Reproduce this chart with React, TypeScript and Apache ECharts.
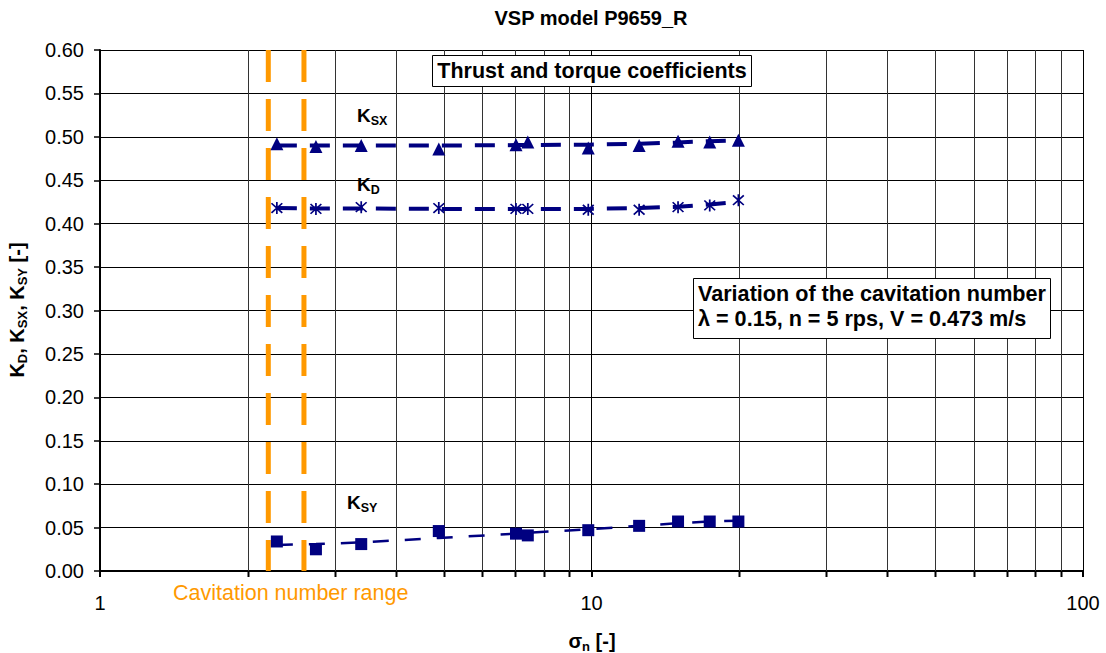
import React, { useEffect, useRef } from 'react';
import * as echarts from 'echarts';

// ---- data ----
const sigma = [2.29, 2.75, 3.4, 4.89, 7.02, 7.42, 9.85, 12.5, 15.0, 17.4, 19.9];
const kSX = [0.492, 0.489, 0.49, 0.486, 0.491, 0.494, 0.487, 0.49, 0.495, 0.494, 0.496];
const kD = [0.418, 0.417, 0.419, 0.418, 0.417, 0.417, 0.416, 0.416, 0.419, 0.421, 0.427];
const kSY = [0.034, 0.025, 0.031, 0.046, 0.043, 0.041, 0.047, 0.052, 0.057, 0.057, 0.057];
// trend lines (at the same sigma values)
const kSXTrend = [0.49, 0.49, 0.49, 0.49, 0.4905, 0.4905, 0.491, 0.492, 0.4935, 0.495, 0.496];
const kDTrend = [0.418, 0.4175, 0.4175, 0.417, 0.417, 0.417, 0.417, 0.418, 0.4195, 0.422, 0.425];
const kSYTrend = [0.03, 0.031, 0.033, 0.038, 0.043, 0.044, 0.048, 0.052, 0.055, 0.057, 0.058];
const cavRange = [2.2, 2.6];
const minorTicks = [2, 3, 4, 5, 6, 7, 8, 9, 20, 30, 40, 50, 60, 70, 80, 90];
const xMin = 1;
const xMax = 100;
const yMin = 0;
const yMax = 0.6;
const yStep = 0.05;

const FONT = "'Liberation Sans', Arial, Helvetica, sans-serif";
const NAVY = '#000080';
const ORANGE = '#FF9900';

const STAR =
  'path://M8.7,0L11.3,0L11.3,20L8.7,20Z M1,2.8L2.8,1L19,17.2L17.2,19Z M17.2,1L19,2.8L2.8,19L1,17.2Z';

const subRich = (size: number, sub: number) => ({
  k: { fontSize: size, fontWeight: 'bold', fontFamily: FONT, lineHeight: 24, verticalAlign: 'middle', fill: '#000' },
  s: { fontSize: sub, fontWeight: 'bold', fontFamily: FONT, lineHeight: 13, verticalAlign: 'bottom', fill: '#000' },
});

export default function App() {
  const ref = useRef<HTMLDivElement>(null);

  useEffect(() => {
    if (!ref.current) return;
    const chart = echarts.init(ref.current, undefined, { renderer: 'svg' });

    const pairs = (ys: number[]) => sigma.map((x, i) => [x, ys[i]]);

    const trend = (name: string, ys: number[], width: number, dash: number[]) => ({
      name,
      type: 'line',
      data: pairs(ys),
      symbol: 'none',
      showSymbol: false,
      lineStyle: { color: NAVY, width, type: dash },
      z: 3,
      silent: true,
    });

    const marks = (name: string, ys: number[], symbol: string, size: number) => ({
      name,
      type: 'scatter',
      data: pairs(ys),
      symbol,
      symbolSize: size,
      itemStyle: { color: NAVY, opacity: 1 },
      z: 4,
      silent: true,
    });

    const option: any = {
      animation: false,
      backgroundColor: '#fff',
      grid: { left: 100, right: 23, top: 50, bottom: 82, containLabel: false },
      xAxis: {
        type: 'log',
        logBase: 10,
        min: xMin,
        max: xMax,
        axisLine: { show: true, onZero: false, lineStyle: { color: '#000', width: 2 } },
        axisTick: { show: true, inside: false, length: 6, lineStyle: { color: '#000', width: 2 } },
        axisLabel: {
          color: '#000',
          fontSize: 20,
          fontFamily: FONT,
          margin: 22,
          formatter: (v: number) => String(Math.round(v)),
        },
        splitLine: { show: true, lineStyle: { color: '#000', width: 1 } },
      },
      yAxis: {
        type: 'value',
        min: yMin,
        max: yMax,
        interval: yStep,
        axisLine: { show: true, lineStyle: { color: '#000', width: 2 } },
        axisTick: { show: true, inside: false, length: 6, lineStyle: { color: '#000', width: 1.5 } },
        axisLabel: {
          color: '#000',
          fontSize: 20,
          fontFamily: FONT,
          margin: 16,
          formatter: (v: number) => v.toFixed(2),
        },
        splitLine: { show: true, lineStyle: { color: '#000', width: 1 } },
      },
      series: [
        {
          name: 'minor grid',
          type: 'custom',
          data: minorTicks.map((v) => [v, yMin]),
          encode: { x: 0, y: 1 },
          clip: false,
          silent: true,
          z: 1,
          renderItem: (params: any, api: any) => {
            const bot = api.coord([api.value(0), yMin]);
            const top = api.coord([api.value(0), yMax]);
            const x = Math.round(bot[0]) + 0.5;
            return {
              type: 'group',
              children: [
                {
                  type: 'line',
                  shape: { x1: x, y1: top[1], x2: x, y2: bot[1] },
                  style: { stroke: '#333', lineWidth: 1 },
                },
                {
                  type: 'line',
                  shape: { x1: x, y1: bot[1], x2: x, y2: bot[1] + 6 },
                  style: { stroke: '#000', lineWidth: 2 },
                },
              ],
            };
          },
        },
        ...cavRange.map((c, i) => ({
          name: 'cavitation ' + i,
          type: 'line',
          data: [
            [c, yMax],
            [c, yMin],
          ],
          symbol: 'none',
          showSymbol: false,
          lineStyle: { color: ORANGE, width: 5, type: [32, 17] },
          z: 2,
          silent: true,
        })),
        trend('KSX trend', kSXTrend, 4, [20, 13]),
        trend('KD trend', kDTrend, 4, [20, 13]),
        trend('KSY trend', kSYTrend, 2.5, [16, 16]),
        marks('KSX', kSX, 'triangle', 13),
        marks('KD', kD, STAR, 12),
        marks('KSY', kSY, 'rect', 12),
      ],
      graphic: [
        {
          type: 'text',
          x: 591,
          y: 18,
          z: 100,
          style: {
            text: 'VSP model P9659_R',
            fontSize: 20,
            fontWeight: 'bold',
            fontFamily: FONT,
            fill: '#000',
            textAlign: 'center',
            textVerticalAlign: 'middle',
          },
        },
        {
          type: 'rect',
          z: 100,
          shape: { x: 432.5, y: 55.5, width: 319, height: 31 },
          style: { fill: '#fff', stroke: '#000', lineWidth: 1 },
        },
        {
          type: 'text',
          x: 592,
          y: 71,
          z: 101,
          style: {
            text: 'Thrust and torque coefficients',
            fontSize: 21.5,
            fontWeight: 'bold',
            fontFamily: FONT,
            fill: '#000',
            textAlign: 'center',
            textVerticalAlign: 'middle',
          },
        },
        {
          type: 'rect',
          z: 100,
          shape: { x: 693.5, y: 278.5, width: 357, height: 60 },
          style: { fill: '#fff', stroke: '#000', lineWidth: 1 },
        },
        {
          type: 'text',
          x: 698,
          y: 293,
          z: 101,
          style: {
            text: 'Variation of the cavitation number',
            fontSize: 21.6,
            fontWeight: 'bold',
            fontFamily: FONT,
            fill: '#000',
            textAlign: 'left',
            textVerticalAlign: 'middle',
          },
        },
        {
          type: 'text',
          x: 698,
          y: 318,
          z: 101,
          style: {
            text: 'λ = 0.15, n = 5 rps, V = 0.473 m/s',
            fontSize: 21.6,
            fontWeight: 'bold',
            fontFamily: FONT,
            fill: '#000',
            textAlign: 'left',
            textVerticalAlign: 'middle',
          },
        },
        {
          type: 'text',
          x: 357,
          y: 115,
          z: 101,
          style: { text: '{k|K}{s|SX}', rich: subRich(19, 12.5), textAlign: 'left', textVerticalAlign: 'middle' },
        },
        {
          type: 'text',
          x: 357,
          y: 184,
          z: 101,
          style: { text: '{k|K}{s|D}', rich: subRich(19, 12.5), textAlign: 'left', textVerticalAlign: 'middle' },
        },
        {
          type: 'text',
          x: 347,
          y: 502,
          z: 101,
          style: { text: '{k|K}{s|SY}', rich: subRich(19, 12.5), textAlign: 'left', textVerticalAlign: 'middle' },
        },
        {
          type: 'text',
          x: 17,
          y: 310,
          rotation: Math.PI / 2,
          z: 101,
          style: {
            text: '{k|K}{s|D}{k|, K}{s|SX}{k|, K}{s|SY}{k| [-]}',
            rich: subRich(20, 13),
            textAlign: 'center',
            textVerticalAlign: 'middle',
          },
        },
        {
          type: 'text',
          x: 592,
          y: 641,
          z: 101,
          style: {
            text: '{k|σ}{s|n}{k| [-]}',
            rich: subRich(20, 13),
            textAlign: 'center',
            textVerticalAlign: 'middle',
          },
        },
        {
          type: 'text',
          x: 173,
          y: 593,
          z: 101,
          style: {
            text: 'Cavitation number range',
            fontSize: 21.5,
            fontFamily: FONT,
            fill: ORANGE,
            textAlign: 'left',
            textVerticalAlign: 'middle',
          },
        },
      ],
    };

    chart.setOption(option);
    return () => chart.dispose();
  }, []);

  return (
    <div
      ref={ref}
      style={{ position: 'fixed', left: 0, top: 0, width: 1106, height: 653, background: '#fff' }}
    />
  );
}
